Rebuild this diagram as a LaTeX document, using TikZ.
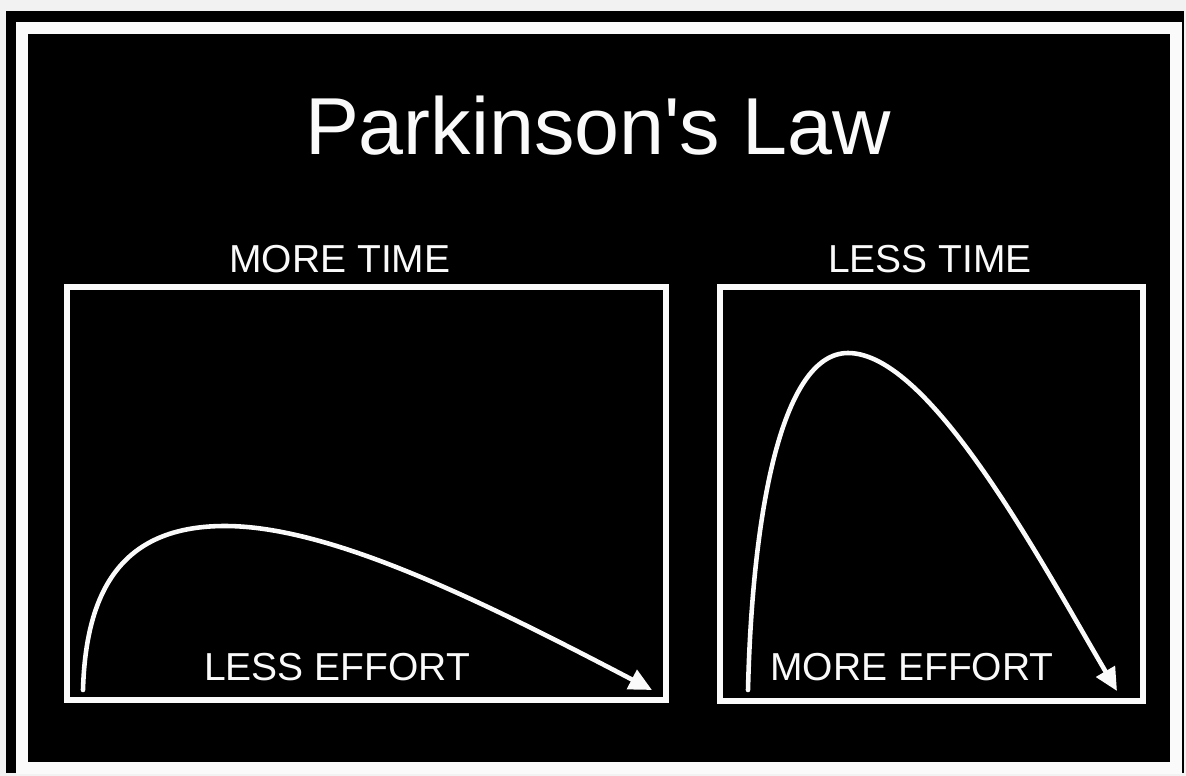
\documentclass[tikz,border=0pt]{standalone}
\usepackage{fontspec}
\setmainfont{Liberation Sans}
\usetikzlibrary{arrows.meta}
\definecolor{PaperGrey}{RGB}{242,242,242}
\definecolor{BoardBlack}{RGB}{0,0,0}
\definecolor{ChalkWhite}{RGB}{250,250,250}
\tikzset{
  frameline/.style={draw=ChalkWhite,line width=6.3pt},
  panelbox/.style={draw=ChalkWhite,line width=3.2pt},
  effortcurve/.style={-{Triangle[length=13pt,width=12pt]},draw=ChalkWhite,fill=none,
    line width=2.6pt,line cap=round},
  titletext/.style={text=ChalkWhite,font=\fontsize{46}{52}\selectfont,anchor=base,inner sep=0pt},
  labeltext/.style={text=ChalkWhite,font=\fontsize{22.2}{26}\selectfont,anchor=base,inner sep=0pt}
}
\begin{document}
\begin{tikzpicture}[x=0.02cm,y=-0.02cm]
  \fill[PaperGrey] (0,0) rectangle (1186,776);
  \fill[BoardBlack] (6,11) rectangle (1184,773);
  \draw[frameline] (22,28) rectangle (1176,768);
  \node[titletext] (title) at (598,155) {Parkinson\textquotesingle s Law};
  \draw[panelbox] (67,287) rectangle (666,700);
  \draw[panelbox] (720,287) rectangle (1143,701);
  \node[labeltext] (moretime) at (340,273) {MORE TIME};
  \node[labeltext] (lesstime) at (930,273) {LESS TIME};
  \node[labeltext] (lesseffort) at (337,680) {LESS EFFORT};
  \node[labeltext] (moreeffort) at (912,680) {MORE EFFORT};
  \draw[effortcurve] (83,690) .. controls (86,580) and (130,526) .. (225,526)
    .. controls (330,526) and (480,600) .. (652,690);
  \draw[effortcurve] (748,690) .. controls (752,520) and (780,353) .. (848,353)
    .. controls (930,353) and (1040,560) .. (1117,691);
\end{tikzpicture}
\end{document}
